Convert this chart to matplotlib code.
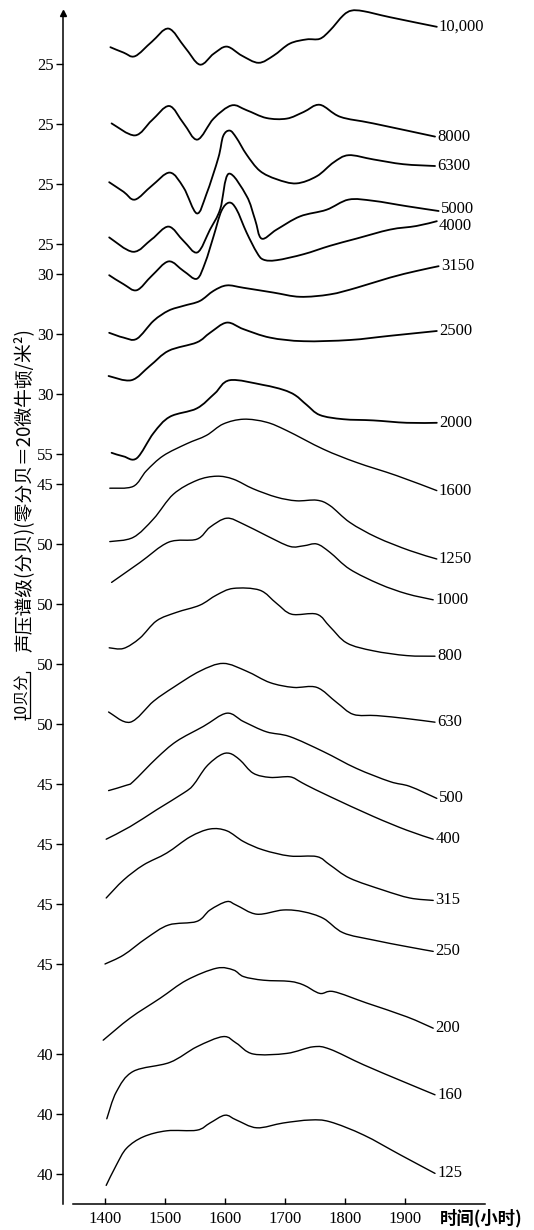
import matplotlib
matplotlib.use('Agg')
import matplotlib.pyplot as plt
from matplotlib.path import Path
from matplotlib.patches import PathPatch

# 各频带曲线 (时间: 小时, 声压谱级: 分贝)
h_10000 = [1409, 1431, 1450, 1478, 1506, 1533, 1558, 1581, 1603, 1628, 1656, 1681, 1708, 1736, 1758, 1775, 1797, 1811, 1831, 1875, 1953]
db_10000 = [27.8, 26.9, 26.3, 28.7, 30.9, 27.8, 24.9, 26.7, 27.9, 26.4, 25.2, 26.4, 28.4, 29.1, 29.2, 30.6, 33.1, 33.9, 33.8, 32.8, 31.2]

h_8000 = [1411, 1450, 1478, 1507, 1531, 1554, 1581, 1611, 1636, 1669, 1703, 1731, 1758, 1792, 1847, 1950]
db_8000 = [25.1, 23.1, 25.6, 28.0, 25.1, 22.4, 25.9, 28.1, 27.3, 26.0, 25.9, 27.0, 28.2, 26.2, 25.1, 22.9]

h_6300 = [1407, 1431, 1450, 1478, 1508, 1531, 1553, 1569, 1589, 1597, 1608, 1619, 1636, 1658, 1686, 1719, 1753, 1781, 1806, 1847, 1897, 1950]
db_6300 = [25.3, 23.7, 22.4, 24.7, 26.9, 24.4, 20.1, 23.3, 29.4, 33.0, 33.9, 32.7, 29.9, 27.2, 25.8, 25.1, 26.3, 28.6, 29.8, 29.1, 28.3, 28.0]

h_5000 = [1407, 1447, 1478, 1506, 1531, 1554, 1575, 1592, 1606, 1636, 1650, 1661, 1686, 1725, 1769, 1806, 1847, 1903, 1956]
db_5000 = [26.1, 23.7, 25.8, 27.9, 25.5, 23.6, 27.4, 30.8, 36.7, 33.0, 29.1, 25.9, 27.4, 29.6, 30.7, 32.4, 32.2, 31.3, 30.5]

h_4000 = [1407, 1431, 1453, 1478, 1506, 1531, 1553, 1567, 1581, 1594, 1607, 1619, 1636, 1653, 1664, 1686, 1731, 1775, 1819, 1875, 1919, 1953]
db_4000 = [29.8, 28.3, 27.3, 29.7, 32.1, 30.5, 29.2, 31.9, 36.3, 40.5, 41.9, 40.8, 36.9, 33.6, 32.4, 32.3, 33.3, 34.7, 35.9, 37.4, 38.0, 38.8]

h_3150 = [1407, 1431, 1453, 1481, 1506, 1531, 1558, 1581, 1603, 1631, 1681, 1725, 1775, 1819, 1875, 1919, 1956]
db_3150 = [30.2, 29.4, 29.2, 32.2, 33.9, 34.7, 35.5, 37.2, 38.1, 37.7, 36.9, 36.2, 36.6, 37.7, 39.4, 40.5, 41.3]

h_2500 = [1406, 1444, 1475, 1506, 1553, 1575, 1603, 1631, 1675, 1731, 1808, 1875, 1953]
db_2500 = [33.0, 32.3, 34.7, 37.2, 38.6, 40.2, 41.9, 40.8, 39.4, 38.8, 39.0, 39.7, 40.5]

h_2000 = [1411, 1431, 1453, 1481, 1508, 1553, 1583, 1608, 1664, 1697, 1717, 1736, 1758, 1797, 1847, 1903, 1953]
db_2000 = [55.2, 54.6, 54.3, 58.5, 61.2, 62.6, 65.1, 67.3, 66.5, 65.7, 64.8, 63.2, 61.5, 60.8, 60.6, 60.2, 60.2]

h_1600 = [1408, 1447, 1469, 1497, 1536, 1569, 1597, 1631, 1669, 1703, 1764, 1819, 1886, 1953]
db_1600 = [44.3, 44.6, 47.2, 49.7, 51.7, 53.1, 55.0, 55.8, 55.3, 53.9, 50.8, 48.6, 46.4, 43.9]

h_1250 = [1408, 1447, 1481, 1514, 1553, 1586, 1614, 1647, 1686, 1719, 1753, 1775, 1808, 1853, 1908, 1953]
db_1250 = [50.4, 51.1, 54.2, 58.3, 60.6, 61.3, 60.8, 59.2, 57.8, 57.2, 57.3, 56.4, 53.6, 51.1, 48.9, 47.5]

h_1000 = [1411, 1458, 1506, 1553, 1575, 1603, 1631, 1669, 1708, 1731, 1753, 1775, 1808, 1858, 1903, 1947]
db_1000 = [53.6, 56.9, 60.3, 60.8, 62.8, 64.3, 63.3, 61.4, 59.6, 59.7, 60.0, 58.6, 55.8, 53.3, 51.7, 50.7]

h_800 = [1407, 1431, 1458, 1486, 1519, 1558, 1586, 1614, 1658, 1686, 1711, 1753, 1775, 1803, 1847, 1903, 1950]
db_800 = [52.7, 52.6, 54.3, 57.2, 58.6, 59.8, 61.5, 62.6, 62.3, 60.1, 58.3, 58.3, 56.2, 53.5, 52.2, 51.4, 51.3]

h_630 = [1406, 1442, 1481, 1514, 1558, 1597, 1636, 1675, 1714, 1753, 1786, 1814, 1853, 1903, 1950]
db_630 = [52.0, 50.3, 53.8, 56.1, 58.8, 60.1, 58.8, 56.9, 56.1, 56.1, 53.6, 51.6, 51.4, 50.9, 50.3]

h_500 = [1406, 1436, 1447, 1486, 1519, 1564, 1603, 1631, 1669, 1708, 1764, 1819, 1875, 1908, 1953]
db_500 = [43.9, 44.8, 45.4, 49.3, 52.1, 54.6, 56.8, 55.4, 53.7, 52.9, 50.4, 47.6, 45.4, 44.6, 42.6]

h_400 = [1402, 1442, 1486, 1531, 1547, 1569, 1592, 1608, 1625, 1647, 1675, 1708, 1725, 1736, 1775, 1847, 1903, 1947]
db_400 = [45.8, 47.9, 50.7, 53.5, 54.8, 57.9, 59.8, 60.1, 59.0, 56.8, 56.1, 56.2, 55.4, 54.8, 52.9, 49.6, 47.3, 45.8]

h_315 = [1402, 1431, 1464, 1503, 1542, 1575, 1603, 1631, 1664, 1708, 1753, 1775, 1808, 1864, 1908, 1947]
db_315 = [46.0, 49.0, 51.5, 53.5, 56.2, 57.5, 57.2, 55.4, 54.0, 53.0, 52.9, 51.5, 49.3, 47.3, 46.0, 45.6]

h_250 = [1400, 1431, 1469, 1506, 1553, 1575, 1603, 1619, 1653, 1697, 1731, 1764, 1797, 1847, 1903, 1947]
db_250 = [45.0, 46.5, 49.3, 51.5, 52.1, 54.0, 55.4, 54.8, 53.3, 54.0, 53.7, 52.6, 50.2, 49.0, 47.9, 47.1]

h_200 = [1397, 1442, 1492, 1536, 1586, 1614, 1631, 1664, 1708, 1731, 1758, 1781, 1836, 1903, 1947]
db_200 = [42.3, 46.0, 49.3, 52.3, 54.3, 54.0, 52.9, 52.3, 52.1, 51.5, 50.1, 50.4, 48.5, 46.2, 44.3]

h_160 = [1403, 1419, 1447, 1508, 1553, 1597, 1619, 1647, 1703, 1747, 1775, 1831, 1897, 1950]
db_160 = [39.2, 43.7, 47.1, 48.6, 51.2, 52.9, 51.8, 50.0, 50.1, 51.2, 50.8, 48.2, 45.4, 43.2]

h_125 = [1402, 1419, 1436, 1464, 1503, 1553, 1575, 1600, 1619, 1653, 1697, 1742, 1775, 1831, 1892, 1950]
db_125 = [38.1, 41.5, 44.3, 46.2, 47.2, 47.3, 48.5, 49.8, 49.0, 47.7, 48.5, 49.0, 48.7, 46.5, 43.2, 40.1]

band_names = ['10,000', '8000', '6300', '5000', '4000', '3150', '2500', '2000', '1600', '1250',
              '1000', '800', '630', '500', '400', '315', '250', '200', '160', '125']
ref_levels = [25, 25, 25, 25, 30, 30, 30, 55, 45, 50, 50, 50, 50, 45, 45, 45, 45, 40, 40, 40]
x_ticks = [1400, 1500, 1600, 1700, 1800, 1900]

curves = [(h_10000, db_10000), (h_8000, db_8000), (h_6300, db_6300), (h_5000, db_5000),
          (h_4000, db_4000), (h_3150, db_3150), (h_2500, db_2500), (h_2000, db_2000),
          (h_1600, db_1600), (h_1250, db_1250), (h_1000, db_1000), (h_800, db_800),
          (h_630, db_630), (h_500, db_500), (h_400, db_400), (h_315, db_315),
          (h_250, db_250), (h_200, db_200), (h_160, db_160), (h_125, db_125)]

# 每条曲线参考刻度在图上的位置 (分贝单位, 依次下移)
offsets = [190, 180, 170, 160, 155, 145, 135, 125, 120, 110, 100, 90, 80, 70, 60, 50, 40, 25, 15, 5]
label_dy = [0, 0, 0, 1.5, -3.5, 0, 0, 0, 0, 0, 0, 0, 0, 0, 0, 0, 0, 0, 0, 0]  # 标注微调 (点)

num_font = 'Liberation Serif'
cjk_font = ['Noto Sans CJK SC', 'DejaVu Sans']


def smooth_path(xs, ys):
    # Catmull-Rom 曲线画成三次贝塞尔, 只经过读出的点
    pts = list(zip(xs, ys))
    n = len(pts)
    verts = [pts[0]]
    codes = [Path.MOVETO]
    for i in range(n - 1):
        p0 = pts[i - 1] if i > 0 else pts[i]
        p1 = pts[i]
        p2 = pts[i + 1]
        p3 = pts[i + 2] if i + 2 < n else pts[i + 1]
        c1 = (p1[0] + (p2[0] - p0[0]) / 6, p1[1] + (p2[1] - p0[1]) / 6)
        c2 = (p2[0] - (p3[0] - p1[0]) / 6, p2[1] - (p3[1] - p1[1]) / 6)
        verts += [c1, c2, p2]
        codes += [Path.CURVE4] * 3
    return Path(verts, codes)


fig = plt.figure(figsize=(5.34, 12.30), dpi=100)
ax = fig.add_axes([62.5 / 534, 26 / 1230, 422.5 / 534, 1191 / 1230])
ax.set_xlim(1329.2, 2033.3)
ax.set_ylim(0, 198.5)

for i, (h, db) in enumerate(curves):
    y = [offsets[i] + d - ref_levels[i] for d in db]
    lw = 1.3 if i < 8 else 1.0
    ax.add_patch(PathPatch(smooth_path(h, y), fill=False, edgecolor='k', lw=lw,
                           joinstyle='round', capstyle='round', clip_on=False))
    ax.annotate(band_names[i], (h[-1], y[-1]), xytext=(1.5, label_dy[i]), textcoords='offset points',
                ha='left', va='center', fontsize=12, family=num_font)

ax.spines['top'].set_visible(False)
ax.spines['right'].set_visible(False)
ax.spines['bottom'].set_bounds(1347, 2033.3)
ax.spines['left'].set_linewidth(1.1)
ax.spines['bottom'].set_linewidth(1.1)

ax.set_xticks(x_ticks)
ax.set_xticklabels([str(t) for t in x_ticks], family=num_font, fontsize=12)
ax.set_yticks(offsets)
ax.set_yticklabels([str(v) for v in ref_levels], family=num_font, fontsize=12)
ax.tick_params(axis='x', direction='in', length=4, width=1, pad=5)
ax.tick_params(axis='y', direction='out', length=5, width=1, pad=1.5)

# 纵轴箭头
ax.plot(0, 1, marker='^', ms=5, color='k', transform=ax.transAxes, clip_on=False)

# 10分贝比例尺
ytf = ax.get_yaxis_transform()
bx0 = (26 - 62.5) / 422.5
bx1 = (30 - 62.5) / 422.5
ax.plot([bx0, bx1, bx1, bx0], [88.7, 88.7, 81.0, 81.0], color='k', lw=0.9,
        transform=ytf, clip_on=False)
fig.text(21 / 534, 1 - 696 / 1230, '10贝分', rotation=90, ha='center', va='center',
         fontsize=11, family=cjk_font)

fig.text(24 / 534, 1 - 490 / 1230, '声压谱级(分贝)(零分贝＝20微牛顿/米²)', rotation=90,
         ha='center', va='center', fontsize=13.5, family=cjk_font)
fig.text(481 / 534, 1 - 1218 / 1230, '时间(小时)', ha='center', va='center',
         fontsize=12.5, fontweight='bold', family=cjk_font)

fig.savefig('out.png', dpi=100)
